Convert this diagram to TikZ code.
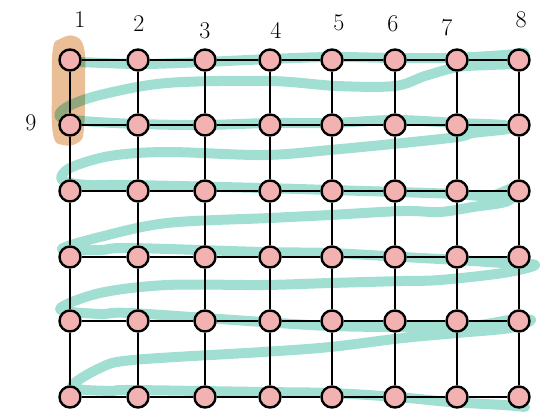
\documentclass[tikz,border=0pt]{standalone}
\usepackage{tikz}
\usetikzlibrary{arrows.meta, positioning, calc}

\begin{document}
\begin{tikzpicture}[
    x=1pt, y=-1pt,
    vtx/.style={circle, draw=black, line width=2.4pt, fill=pinkfill, minimum size=21pt, inner sep=0pt},
    edge/.style={draw=black, line width=2pt},
    colnum/.style={font=\fontsize{24}{26}\selectfont, inner sep=0pt},
    snake/.style={draw=tealpen, line width=10pt, line cap=round, line join=round},
    hilite/.style={fill=orangepen, blend mode=multiply},
]
\definecolor{pinkfill}{RGB}{242,178,178}
\definecolor{tealpen}{RGB}{160,223,210}
\definecolor{orangepen}{RGB}{234,190,150}

\useasboundingbox (0,0) rectangle (540,417);

% ── Snake path (behind everything) ──
\draw[snake] plot[smooth, tension=0.55] coordinates {
    (80,62) (140,64) (205,62) (270,59) (332,57) (395,58) (450,58) (505,55) (524,53)
    (520,63) (490,65) (458,67) (425,76) (395,86) (337,86) (270,81) (167,83) (100,95) (67,107) (60,117)
    (83,121) (138,124) (205,125) (270,123) (332,123) (395,120) (457,123) (503,125) (508,129)
    (473,133) (450,138) (330,150) (263,155) (167,152) (110,156) (70,168) (62,180)
    (87,185) (130,185) (263,188) (330,190) (397,192) (457,194) (490,196) (516,187)
    (508,201) (473,207) (440,212) (403,211) (330,215) (270,218) (167,223) (100,237) (62,249)
    (100,250) (130,248) (263,252) (330,253) (403,257) (457,260) (503,263) (535,265)
    (503,273) (440,280) (403,281) (330,283) (263,285) (167,285) (100,293) (60,309)
    (100,314) (130,313) (263,322) (330,326) (403,327) (470,326) (510,320) (531,320)
    (510,328) (457,333) (403,338) (330,347) (263,352) (133,360) (100,368) (72,387)
    (110,391) (130,390) (263,392) (330,393) (397,397) (450,402) (503,405) (525,407)
};

% ── Highlight on the first column ──
\fill[hilite] plot[smooth cycle, tension=0.7] coordinates {
    (60,39) (74,36) (84,48) (85,85) (84,128) (79,142) (63,145) (53,134) (52,85) (53,48)
};

% ── Grid nodes ──
\foreach \x [count=\i] in {70,138,205,270,332,395,457,519} {
    \foreach \y [count=\j] in {60,125,191,257,321,397} {
        \node[vtx] (v\j-\i) at (\x,\y) {};
    }
}

% ── Grid edges ──
\foreach \j in {1,...,6} {
    \foreach \i [evaluate=\i as \k using int(\i+1)] in {1,...,7} {
        \draw[edge] (v\j-\i) -- (v\j-\k);
    }
}
\foreach \i in {1,...,8} {
    \foreach \j [evaluate=\j as \k using int(\j+1)] in {1,...,5} {
        \draw[edge] (v\j-\i) -- (v\k-\i);
    }
}

% ── Hand-written numbers ──
\node[colnum] (lab1) at (80,20) {1};
\node[colnum] (lab2) at (139,24) {2};
\node[colnum] (lab3) at (205,31) {3};
\node[colnum] (lab4) at (276,30) {4};
\node[colnum] (lab5) at (339,23) {5};
\node[colnum] (lab6) at (393,24) {6};
\node[colnum] (lab7) at (447,28) {7};
\node[colnum] (lab8) at (521,20) {8};
\node[colnum] (lab9) at (31,123) {9};

\end{tikzpicture}
\end{document}
